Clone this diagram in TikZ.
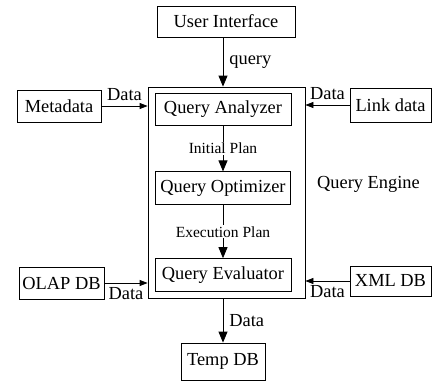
\documentclass[tikz,border=0pt]{standalone}
\usepackage{fontspec}
\setmainfont{Liberation Serif}
\usetikzlibrary{positioning,arrows.meta}

\begin{document}
\begin{tikzpicture}[x=1pt,y=-1pt,
	block/.style={rectangle,draw,line width=0.8pt,minimum height=32pt,inner sep=2pt,font=\fontsize{18.4}{22}\selectfont},
	flow/.style={line width=0.8pt,-{Triangle[width=9pt,length=11pt]}},
	feed/.style={line width=0.8pt,-{Triangle[width=6pt,length=8pt]}},
	lbl/.style={inner sep=1pt,font=\fontsize{18.4}{22}\selectfont},
	plan/.style={fill=white,inner sep=1pt,font=\fontsize{15.5}{18}\selectfont}]
	\useasboundingbox (0,0) rectangle (432,383);
	\node (ui)[block,minimum width=138pt,minimum height=31pt] at (226,21.5) {User Interface};
	\node (engine)[draw,line width=0.8pt,minimum width=157pt,minimum height=211pt] at (226.5,192.5) {};
	\node (qa)[block,minimum width=136pt] at (223,109) {Query Analyzer};
	\node (qo)[block,minimum width=135pt,minimum height=33pt,below=46pt of qa] {Query Optimizer};
	\node (qev)[block,minimum width=136pt,minimum height=33pt,below=53pt of qo] {Query Evaluator};
	\node (qelabel)[lbl] at (368.5,184) {Query Engine};
	\node (meta)[block,minimum width=84pt] at (59,106) {Metadata};
	\node (link)[block,minimum width=81pt,minimum height=34pt] at (390.5,105) {Link data};
	\node (olap)[block,minimum width=85pt] at (61.5,283) {OLAP DB};
	\node (xml)[block,minimum width=81pt,minimum height=30pt] at (390.5,281) {XML DB};
	\node (temp)[block,minimum width=84pt,minimum height=37pt] at (223,361.5) {Temp DB};
	% arrows
	\draw[flow] (qa.north |- ui.south) -- node[lbl,right=5pt]{query} (qa.north |- engine.north);
	\draw[feed] (meta) -- node[lbl,above=4pt]{Data} (meta -| engine.west);
	\draw[feed] (link) -- node[lbl,above=4pt]{Data} (link -| engine.east);
	\draw[feed] (olap) -- node[lbl,below=3pt]{Data} (olap -| engine.west);
	\draw[feed] (xml) -- node[lbl,below=3pt]{Data} (xml -| engine.east);
	\draw[flow] (qa) -- node[plan]{Initial Plan} (qo);
	\draw[flow] (qo) -- node[plan]{Execution Plan} (qev);
	\draw[flow] (engine.south -| temp) -- node[lbl,right=5pt]{Data} (temp);
\end{tikzpicture}
\end{document}
